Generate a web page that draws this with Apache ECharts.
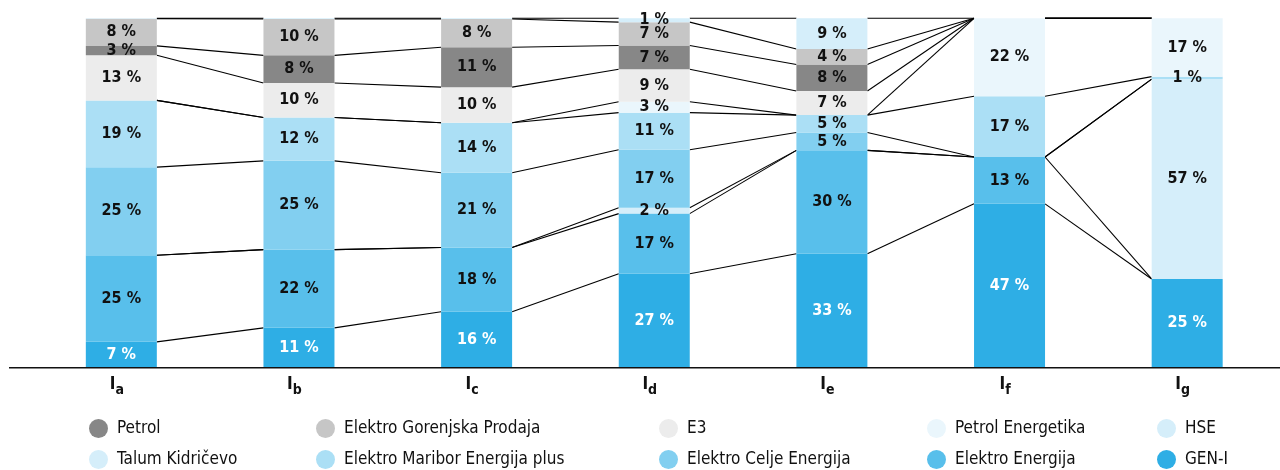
<!DOCTYPE html>
<html>
<head>
<meta charset="utf-8">
<script src="https://cdn.jsdelivr.net/npm/echarts@6/dist/echarts.min.js"></script>
<style>
html,body{margin:0;padding:0;background:#fff;}
#chart{width:1280px;height:470px;}
</style>
</head>
<body>
<div id="chart"></div>
<script>
// Categories (x-axis subscripts)
const categories = ['a', 'b', 'c', 'd', 'e', 'f', 'g'];

// Series values in %, bottom to top of each stacked bar
const genI             = [7.4, 11.4, 16.0, 26.9, 32.6, 46.9, 25.4];
const elektroEnergija  = [24.8, 22.4, 18.4, 17.2, 29.6, 13.4, 0];
const talumKidricevo   = [0, 0, 0, 1.7, 0, 0, 57.2];
const elektroCelje     = [25.2, 25.4, 21.4, 16.6, 5.1, 0, 0];
const elektroMaribor   = [19.1, 12.4, 14.3, 10.6, 5.0, 17.4, 0.7];
const petrolEnergetika = [0, 0, 0, 3.1, 0, 22.3, 16.7];
const e3               = [12.9, 9.9, 10.2, 9.3, 6.9, 0, 0];
const petrol           = [2.7, 7.9, 11.4, 6.8, 7.6, 0, 0];
const elektroGorenjska = [7.8, 10.4, 8.1, 6.7, 4.4, 0, 0];
const hse              = [0.1, 0.2, 0.2, 1.1, 8.8, 0, 0];

// Series names
const seriesNames = ['GEN-I', 'Elektro Energija', 'Talum Kidričevo', 'Elektro Celje Energija',
  'Elektro Maribor Energija plus', 'Petrol Energetika', 'E3', 'Petrol', 'Elektro Gorenjska Prodaja', 'HSE'];
const seriesValues = [genI, elektroEnergija, talumKidricevo, elektroCelje, elektroMaribor,
  petrolEnergetika, e3, petrol, elektroGorenjska, hse];
const seriesColors = ['#2eaee5', '#58bfeb', '#d5eefa', '#82cff0', '#abdff5',
  '#eaf6fc', '#ececec', '#878787', '#c6c6c6', '#d5eefa'];

// Legend columns (row 1, row 2)
const legendColumns = [
  ['Petrol', 'Talum Kidričevo'],
  ['Elektro Gorenjska Prodaja', 'Elektro Maribor Energija plus'],
  ['E3', 'Elektro Celje Energija'],
  ['Petrol Energetika', 'Elektro Energija'],
  ['HSE', 'GEN-I']
];
const legendLeft = [89, 316, 659, 927, 1157];

const FONT = "'Liberation Sans Narrow', 'DejaVu Sans Condensed', 'Noto Sans', sans-serif";
const BAR_W = 71;

// cumulative tops for link lines
const tops = seriesValues.map(() => []);
for (let c = 0; c < categories.length; c++) {
  let acc = 0;
  for (let s = 0; s < seriesValues.length; s++) {
    acc += seriesValues[s][c];
    tops[s][c] = acc;
  }
}
const linkData = [];
for (let s = 0; s < seriesValues.length; s++) {
  for (let c = 0; c < categories.length - 1; c++) {
    linkData.push([c, tops[s][c], tops[s][c + 1]]);
  }
}

const chart = echarts.init(document.getElementById('chart'), null, {renderer: 'canvas'});

const barSeries = seriesNames.map((name, i) => ({
  name: name,
  type: 'bar',
  stack: 'total',
  barWidth: BAR_W,
  data: seriesValues[i],
  itemStyle: {color: seriesColors[i]},
  z: 3,
  label: {
    show: true,
    position: 'inside',
    fontFamily: FONT,
    fontWeight: 'bold',
    fontSize: 16,
    color: i === 0 ? '#ffffff' : '#111111',
    formatter: p => (p.value < 0.5 ? '' : Math.round(p.value) + ' %')
  }
}));

const option = {
  animation: false,
  grid: {left: 32.5, right: 4, top: 18.3, bottom: 102.3, containLabel: false},
  xAxis: {
    type: 'category',
    data: categories,
    axisLine: {show: false},
    axisTick: {show: false},
    axisLabel: {
      margin: 8,
      formatter: v => '{m|I}{s|' + v + '}',
      rich: {
        m: {fontFamily: FONT, fontWeight: 'bold', fontSize: 17, color: '#111111', verticalAlign: 'top', lineHeight: 17},
        s: {fontFamily: FONT, fontWeight: 'bold', fontSize: 14, color: '#111111', verticalAlign: 'middle', padding: [0, 9, 0, 0], lineHeight: 30}
      }
    }
  },
  yAxis: {
    type: 'value', min: 0, max: 100,
    show: false,
    splitLine: {show: false}
  },
  legend: legendColumns.map((col, k) => ({
    data: col,
    orient: 'vertical',
    left: legendLeft[k],
    top: 419,
    icon: 'circle',
    itemWidth: 27,
    itemHeight: 19,
    itemGap: 12,
    selectedMode: false,
    padding: 0,
    textStyle: {fontFamily: FONT, fontSize: 17, color: '#111111'}
  })),
  graphic: [{
    type: 'line',
    shape: {x1: 9, y1: 367.7, x2: 1280, y2: 367.7},
    style: {stroke: '#111111', lineWidth: 1.5},
    z: 100
  }],
  series: barSeries.concat([{
    type: 'custom',
    name: 'links',
    silent: true,
    z: 2,
    data: linkData,
    encode: {x: 0, y: [1, 2]},
    renderItem: function (params, api) {
      const c = api.value(0);
      const p1 = api.coord([c, api.value(1)]);
      const p2 = api.coord([c + 1, api.value(2)]);
      const half = BAR_W / 2;
      return {
        type: 'line',
        shape: {x1: p1[0] + half, y1: p1[1], x2: p2[0] - half, y2: p2[1]},
        style: {stroke: '#000000', lineWidth: 1.1}
      };
    }
  }])
};
chart.setOption(option);
</script>
</body>
</html>
